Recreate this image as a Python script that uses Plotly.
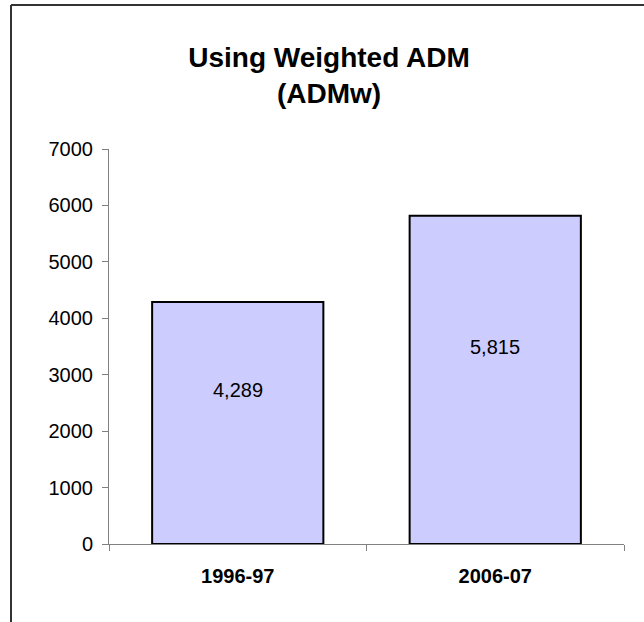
import plotly.graph_objects as go

categories = ["1996-97", "2006-07"]
values = [4289, 5815]
value_labels = ["4,289", "5,815"]
y_ticks = [0, 1000, 2000, 3000, 4000, 5000, 6000, 7000]

W, H = 644, 622
ml, mr, mt, mb = 109, 20, 149, 78
pw = W - ml - mr
ph = H - mt - mb

fig = go.Figure()
fig.add_trace(go.Bar(
    x=categories, y=values,
    marker=dict(color="#CCCCFF", line=dict(color="#000000", width=2)),
    width=0.665,
    hoverinfo="skip",
))

for c, v, t in zip(categories, values, value_labels):
    fig.add_annotation(x=c, y=v / 2, text=t, showarrow=False, yshift=33,
                       font=dict(family="Liberation Sans, Arial", size=20, color="#000000"))

def px_to_paper_x(px):
    return (px - ml) / pw

def py_to_paper_y(py):
    return (H - mb - py) / ph

bx = px_to_paper_x(11)
by = py_to_paper_y(5)
fig.add_shape(type="line", xref="paper", yref="paper", x0=bx, x1=px_to_paper_x(646), y0=by, y1=by,
              line=dict(color="#333333", width=2), layer="above")
fig.add_shape(type="line", xref="paper", yref="paper", x0=bx, x1=bx, y0=by, y1=py_to_paper_y(630),
              line=dict(color="#333333", width=2), layer="above")

fig.update_layout(
    width=W, height=H,
    margin=dict(l=ml, r=mr, t=mt, b=mb),
    paper_bgcolor="white", plot_bgcolor="white",
    showlegend=False,
    title=dict(text="<b>Using Weighted ADM<br>(ADMw)</b>", xref="container", x=329 / W, xanchor="center",
               yref="container", y=1 - 67 / H, yanchor="top",
               font=dict(family="Liberation Sans, Arial", size=28, color="#000000")),
    font=dict(family="Liberation Sans, Arial", size=20, color="#000000"),
)
fig.update_yaxes(range=[0, 7000], tickvals=y_ticks, ticktext=[str(v) for v in y_ticks],
                 showgrid=False, zeroline=False, showline=True, linecolor="#808080", linewidth=1,
                 ticks="outside", ticklen=6, tickcolor="#808080", ticklabelstandoff=5,
                 tickfont=dict(size=20, family="Liberation Sans, Arial"))
fig.update_xaxes(type="category", showgrid=False, showline=True, linecolor="#808080", linewidth=1,
                 ticks="outside", ticklen=6, tickcolor="#808080", tickson="boundaries",
                 ticklabelstandoff=14,
                 tickfont=dict(size=20, family="Liberation Sans, Arial"),
                 tickvals=categories, ticktext=["<b>%s</b>" % c for c in categories])

fig.write_html("out.html", config={"displayModeBar": False},
               post_script="document.body.style.margin='0';")
